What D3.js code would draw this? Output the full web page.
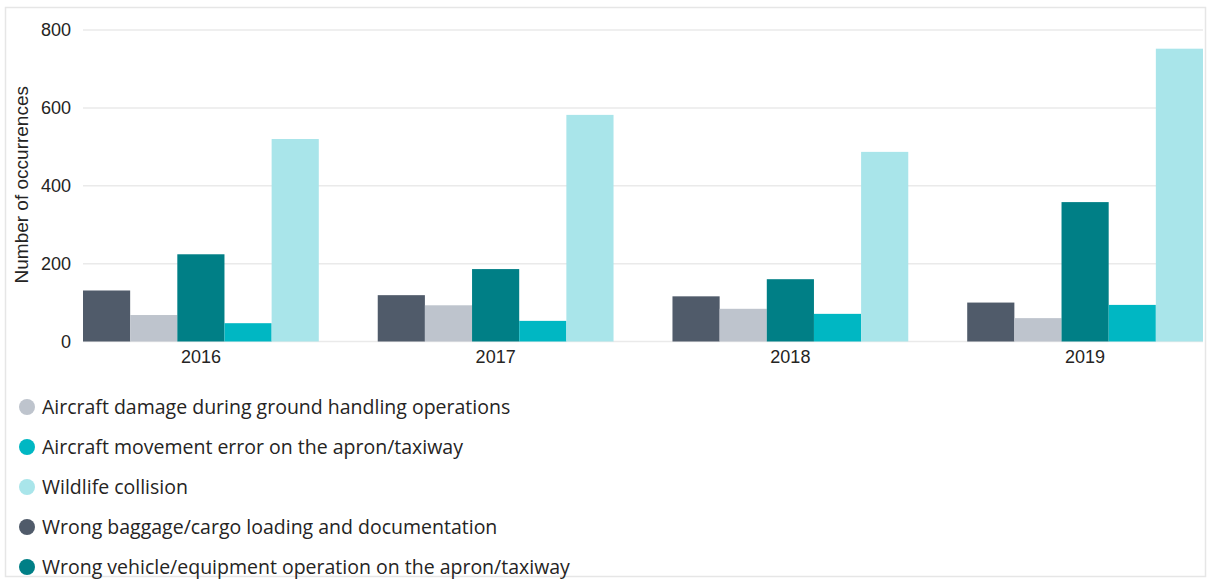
<!DOCTYPE html>
<html>
<head>
<meta charset="utf-8">
<script src="https://cdn.jsdelivr.net/npm/d3@7"></script>
<style>
  body { margin: 0; background: #fff; }
  svg { display: block; }
</style>
</head>
<body>
<div id="chart"></div>
<script>
// data
var years = ["2016", "2017", "2018", "2019"]
var seriesNames = [
    "Wrong baggage/cargo loading and documentation",
    "Aircraft damage during ground handling operations",
    "Wrong vehicle/equipment operation on the apron/taxiway",
    "Aircraft movement error on the apron/taxiway",
    "Wildlife collision"
]
var baggage   = [131, 119, 116, 100]
var damage    = [68, 93, 84, 60]
var vehicle   = [224, 186, 160, 358]
var movement  = [47, 53, 71, 94]
var wildlife  = [520, 582, 487, 752]
var yTicks = [0, 200, 400, 600, 800]
// legend is listed alphabetically
var legendOrder = [
    "Aircraft damage during ground handling operations",
    "Aircraft movement error on the apron/taxiway",
    "Wildlife collision",
    "Wrong baggage/cargo loading and documentation",
    "Wrong vehicle/equipment operation on the apron/taxiway"
]

var seriesValues = [baggage, damage, vehicle, movement, wildlife]
var colors = ["#505b6a", "#bec4cd", "#007f86", "#00b7c3", "#a9e5ea"]

var W = 1213, H = 580
var plotLeft = 83, plotRight = 1203, plotTop = 30, plotBottom = 341.5

var svg = d3.select("#chart").append("svg")
    .attr("width", W)
    .attr("height", H)

// outer frame
svg.append("rect")
    .attr("x", 5.5).attr("y", 7.5)
    .attr("width", 1200).attr("height", 569)
    .attr("fill", "none")
    .attr("stroke", "#e6e6e6")
    .attr("stroke-width", 1.5)

var color = d3.scaleOrdinal().domain(seriesNames).range(colors)

var x0 = d3.scaleBand().domain(years).range([plotLeft, plotRight]).paddingInner(0.2).paddingOuter(0)
var x1 = d3.scaleBand().domain(seriesNames).range([0, x0.bandwidth()])
var y = d3.scaleLinear().domain([0, 800]).range([plotBottom, plotTop])

// gridlines
svg.append("g")
    .selectAll("line")
    .data(yTicks)
    .enter()
    .append("line")
    .attr("x1", plotLeft)
    .attr("x2", plotRight)
    .attr("y1", d => y(d))
    .attr("y2", d => y(d))
    .attr("stroke", "#eaeaea")
    .attr("stroke-width", 1.5)

// y axis labels
var yAxis = svg.append("g")
    .attr("transform", "translate(" + plotLeft + ",0)")
    .call(d3.axisLeft(y).tickValues(yTicks).tickSize(0).tickPadding(12))
yAxis.select(".domain").remove()
yAxis.selectAll("text")
    .style("font-family", "Liberation Sans, Arial, sans-serif")
    .style("font-size", "18px")
    .attr("fill", "#252423")

svg.append("text")
    .attr("transform", "rotate(-90)")
    .attr("x", -(plotTop + plotBottom) / 2 + 1)
    .attr("y", 28)
    .attr("text-anchor", "middle")
    .style("font-family", "Liberation Sans, Arial, sans-serif")
    .style("font-size", "19px")
    .attr("fill", "#252423")
    .text("Number of occurrences")

// x axis labels
var xAxis = svg.append("g")
    .attr("transform", "translate(0," + plotBottom + ")")
    .call(d3.axisBottom(x0).tickSize(0).tickPadding(9))
xAxis.select(".domain").remove()
xAxis.selectAll("text")
    .style("font-family", "Liberation Sans, Arial, sans-serif")
    .style("font-size", "18px")
    .attr("fill", "#252423")

// bars
var rows = years.map(function(yr, i) {
    return { year: yr, values: seriesNames.map(function(s, j) { return { name: s, value: seriesValues[j][i] } }) }
})

svg.append("g")
    .selectAll("g")
    .data(rows)
    .enter()
    .append("g")
    .attr("transform", d => "translate(" + x0(d.year) + ",0)")
    .selectAll("rect")
    .data(d => d.values)
    .enter()
    .append("rect")
    .attr("x", d => x1(d.name))
    .attr("y", d => y(d.value))
    .attr("width", x1.bandwidth())
    .attr("height", d => y(0) - y(d.value))
    .attr("fill", d => color(d.name))

// legend
var legend = svg.append("g")
    .selectAll("g")
    .data(legendOrder)
    .enter()
    .append("g")
    .attr("transform", function(d, i) { return "translate(0," + (407 + i * 40) + ")" })
legend.append("circle")
    .attr("cx", 27)
    .attr("cy", 0)
    .attr("r", 8)
    .attr("fill", d => color(d))
legend.append("text")
    .attr("x", 42)
    .attr("y", 0)
    .attr("dy", "0.35em")
    .style("font-family", "Open Sans, sans-serif")
    .style("font-size", "19.5px")
    .attr("fill", "#252423")
    .text(d => d)
</script>
</body>
</html>
